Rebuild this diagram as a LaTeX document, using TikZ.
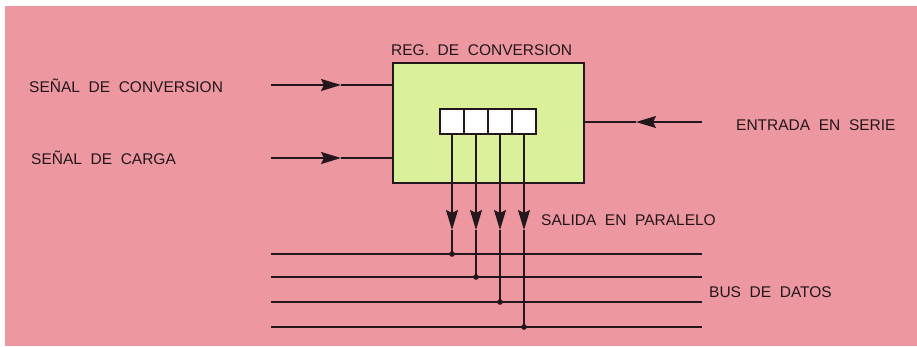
\documentclass[tikz,border=0pt]{standalone}
\usepackage{fontspec}
\setmainfont{Liberation Sans}[WordSpace=2]
\usetikzlibrary{arrows.meta}
\definecolor{bgpink}{RGB}{237,152,160}
\definecolor{boxgreen}{RGB}{218,240,155}
\definecolor{ink}{RGB}{35,22,28}
\begin{document}
\begin{tikzpicture}[x=1pt,y=-1pt,
  lbl/.style={anchor=west,inner sep=0pt,font=\fontsize{15.5}{15.5}\selectfont,text=ink},
  wire/.style={draw=ink,line width=1.6pt},
  arr/.style={wire,-{Stealth[length=20pt,width=12pt,inset=3pt]}},
  regbox/.style={draw=ink,line width=2.2pt,fill=boxgreen,minimum width=191pt,minimum height=120pt,inner sep=0pt},
  cell/.style={draw=ink,line width=2.2pt,fill=white,minimum width=24pt,minimum height=25pt,inner sep=0pt},
  buswire/.style={draw=ink,line width=1.5pt},
  dot/.style={fill=ink}
]
\useasboundingbox (0,0) rectangle (917,346);
\fill[white] (0,0) rectangle (917,346);
\fill[bgpink] (5,6) rectangle (917,346);

% register
\node[regbox,anchor=north west] (reg) at (392,62) {};
\node[cell] (c1) at (452,121.5) {};
\node[cell] (c2) at (476,121.5) {};
\node[cell] (c3) at (500,121.5) {};
\node[cell] (c4) at (524,121.5) {};

% labels
\node[lbl] (lconv) at (29,86) {SEÑAL DE CONVERSION};
\node[lbl] (lcarga) at (31,158) {SEÑAL DE CARGA};
\node[lbl] (lreg) at (391,50) {REG. DE CONVERSION};
\node[lbl] (lent) at (736,125) {ENTRADA EN SERIE};
\node[lbl] (lsal) at (541,220) {SALIDA EN PARALELO};
\node[lbl] (lbus) at (709,292) {BUS DE DATOS};

% input arrows
\coordinate (s1) at (271,85);
\coordinate (h1) at (341,85);
\draw[arr] (s1) -- (h1);
\draw[wire] (h1) -- (reg.west |- h1);
\coordinate (s2) at (271,158);
\coordinate (h2) at (341,158);
\draw[arr] (s2) -- (h2);
\draw[wire] (h2) -- (reg.west |- h2);
\coordinate (s3) at (702,122);
\coordinate (h3) at (636,122);
\draw[arr] (s3) -- (h3);
\draw[wire] (h3) -- (reg.east |- h3);

% bus lines
\foreach \i/\y in {1/254,2/277,3/302,4/327}{
  \coordinate (bl\i) at (271,\y);
  \coordinate (br\i) at (702,\y);
  \draw[buswire] (bl\i) -- (br\i);
}

% parallel outputs
\foreach \i in {1,2,3,4}{
  \coordinate (t\i) at (c\i.south |- 0,230);
  \draw[arr] (c\i.south) -- (t\i);
  \coordinate (j\i) at (c\i.south |- bl\i);
  \draw[wire] (t\i) -- (j\i);
  \fill[dot] (j\i) circle (2.8pt);
}
\end{tikzpicture}
\end{document}
